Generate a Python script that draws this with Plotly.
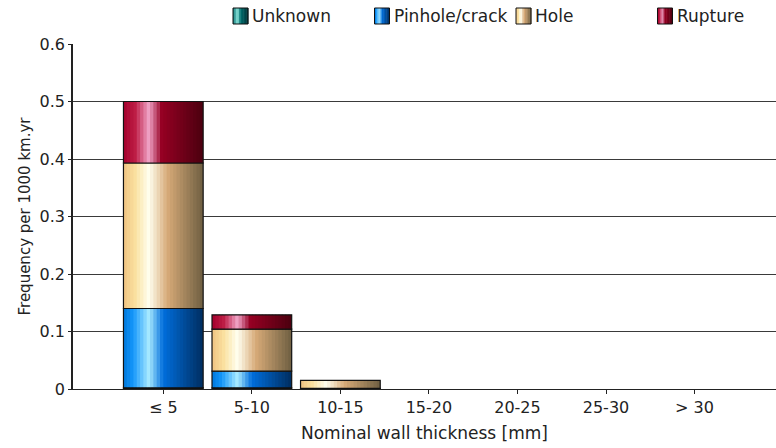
import plotly.graph_objects as go

# Failure frequency by nominal wall thickness, stacked by failure size
categories = ["\u2264 5", "5-10", "10-15", "15-20", "20-25", "25-30", "> 30"]
unknown = [0.002, 0.002, 0.0, 0.0, 0.0, 0.0, 0.0]
pinhole = [0.138, 0.029, 0.001, 0.0, 0.0, 0.0, 0.0]
hole = [0.253, 0.073, 0.014, 0.0, 0.0, 0.0, 0.0]
rupture = [0.107, 0.025, 0.0, 0.0, 0.0, 0.0, 0.0]

series_names = ["Unknown", "Pinhole/crack", "Hole", "Rupture"]
series_values = [unknown, pinhole, hole, rupture]

# Cylinder-style shading: colour stops across the bar width (position, rgb)
shading = {
    "Unknown": [(0, (0, 110, 110)), (0.3, (140, 230, 220)), (0.5, (0, 110, 110)), (1, (0, 50, 55))],
    "Pinhole/crack": [(0, (0, 120, 220)), (0.12, (20, 150, 250)), (0.32, (170, 235, 255)),
                      (0.5, (0, 110, 220)), (1, (0, 45, 95))],
    "Hole": [(0, (240, 195, 130)), (0.15, (250, 225, 160)), (0.32, (255, 255, 240)),
             (0.55, (215, 170, 120)), (1, (110, 95, 65))],
    "Rupture": [(0, (165, 0, 45)), (0.15, (190, 30, 70)), (0.32, (240, 165, 200)),
                (0.48, (150, 0, 35)), (1, (75, 0, 15))],
}


def shade(stops, t):
    for (p0, c0), (p1, c1) in zip(stops[:-1], stops[1:]):
        if p0 <= t <= p1:
            f = (t - p0) / (p1 - p0) if p1 > p0 else 0
            c = [round(a + (b - a) * f) for a, b in zip(c0, c1)]
            return "rgb(%d,%d,%d)" % tuple(c)
    return "rgb(%d,%d,%d)" % stops[-1][1]


FONT = "DejaVu Sans, Verdana, sans-serif"
W, H = 776, 448
M_L, M_R, M_T, M_B = 73, 0, 44, 59
PLOT_W, PLOT_H = W - M_L - M_R, H - M_T - M_B

idx = list(range(len(categories)))
bar_width = 0.9
n_strips = 24
strip = bar_width / n_strips
fig = go.Figure()

bases = [0.0] * len(categories)
for name, vals in zip(series_names, series_values):
    ys = [v if v > 0 else None for v in vals]
    base = list(bases)
    stops = shading[name]
    for k in range(n_strips):
        t = (k + 0.5) / n_strips
        fig.add_trace(go.Bar(
            x=idx, y=ys, base=base,
            width=strip + (0.014 if k < n_strips - 1 else 0),
            offset=-bar_width / 2 + k * strip,
            marker=dict(color=shade(stops, t), line=dict(width=0)),
            showlegend=False, hoverinfo="skip",
        ))
    # segment outline
    fig.add_trace(go.Bar(
        x=idx, y=ys, base=base, width=bar_width, offset=-bar_width / 2,
        marker=dict(color="rgba(0,0,0,0)", line=dict(color="#111111", width=1.2)),
        name=name, showlegend=False,
    ))
    bases = [b + v for b, v in zip(bases, vals)]

# Legend row above the plot: shaded swatch + label, evenly spaced
shapes = []
annotations = []
legend_x0, legend_step = 233, 141.5
sw_w, sw_top, sw_bot = 15, 8, 24
n_sw = 10
for i, name in enumerate(series_names):
    x0 = legend_x0 + i * legend_step
    for k in range(n_sw):
        t = (k + 0.5) / n_sw
        shapes.append(dict(
            type="rect", xref="paper", yref="paper", layer="above",
            x0=(x0 + k * sw_w / n_sw - M_L) / PLOT_W,
            x1=(x0 + (k + 1) * sw_w / n_sw + 0.4 - M_L) / PLOT_W,
            y0=(H - M_B - sw_bot) / PLOT_H, y1=(H - M_B - sw_top) / PLOT_H,
            fillcolor=shade(shading[name], t), line=dict(width=0),
        ))
    shapes.append(dict(
        type="rect", xref="paper", yref="paper", layer="above",
        x0=(x0 - M_L) / PLOT_W, x1=(x0 + sw_w - M_L) / PLOT_W,
        y0=(H - M_B - sw_bot) / PLOT_H, y1=(H - M_B - sw_top) / PLOT_H,
        fillcolor="rgba(0,0,0,0)", line=dict(color="#111111", width=1),
    ))
    annotations.append(dict(
        text=name, xref="paper", yref="paper", showarrow=False,
        x=(x0 + sw_w + 2 - M_L) / PLOT_W, xanchor="left",
        y=(H - M_B - (sw_top + sw_bot) / 2) / PLOT_H, yanchor="middle",
        font=dict(family=FONT, size=17, color="#222222"),
    ))

fig.update_layout(
    barmode="overlay",
    width=W, height=H,
    margin=dict(l=M_L, r=M_R, t=M_T, b=M_B),
    paper_bgcolor="white", plot_bgcolor="white",
    font=dict(family=FONT, size=17, color="#222222"),
    showlegend=False,
    shapes=shapes,
    annotations=annotations,
    xaxis=dict(
        range=[-1.02, 6.92], tickmode="array", tickvals=idx, ticktext=categories,
        showgrid=False, showline=True, linecolor="#222222", linewidth=1,
        ticks="outside", ticklen=4, tickcolor="#222222",
        tickfont=dict(size=16),
        title=dict(text="Nominal wall thickness [mm]", font=dict(size=17), standoff=10),
        zeroline=False,
    ),
    yaxis=dict(
        range=[0, 0.6], tickmode="array", tickvals=[0, 0.1, 0.2, 0.3, 0.4, 0.5, 0.6],
        ticktext=["0", "0.1", "0.2", "0.3", "0.4", "0.5", "0.6"],
        showgrid=True, gridcolor="#3a3a3a", gridwidth=1,
        showline=True, linecolor="#222222", linewidth=1.5,
        ticks="outside", ticklen=3, tickcolor="#222222",
        tickfont=dict(size=16),
        title=dict(text="Frequency per 1000 km.yr", font=dict(size=15), standoff=5),
        zeroline=False,
    ),
)

fig.write_html("out.html")
